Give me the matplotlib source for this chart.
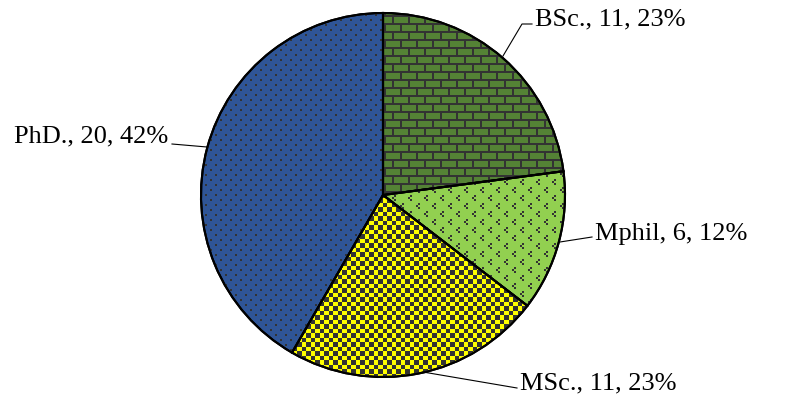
import matplotlib
matplotlib.use("Agg")
import matplotlib.pyplot as plt
import numpy as np
from matplotlib.patches import Wedge

# data
categories = ["BSc.", "Mphil", "MSc.", "PhD."]
counts = [11, 6, 11, 20]
face_colors = ["#548235", "#92D050", "#FFFF00", "#2F5597"]
patterns = ["brick", "divot", "checks", "dots"]

# layout (pixels, top-left origin)
W, H = 808, 402
cx, cy, R = 383, 196, 182
label_pos = [(535, 19, "left"), (595, 234, "left"), (520, 383, "left"), (168, 136, "right")]
leaders = [[(503, 57), (522, 25), (532, 25)],
           [(560, 243), (592, 238)],
           [(423, 373), (517, 389)],
           [(207, 148), (172, 145)]]

plt.rcParams["font.family"] = ["Liberation Serif", "DejaVu Serif"]

fig = plt.figure(figsize=(W / 100, H / 100), dpi=100)
ax = fig.add_axes([0, 0, 1, 1])

wedges, _ = ax.pie(counts, colors=face_colors, startangle=90, counterclock=False,
                   center=(cx, H - cy), radius=R,
                   wedgeprops=dict(edgecolor="black", linewidth=1.5))
ax.set_xlim(0, W)
ax.set_ylim(0, H)
ax.set_aspect("equal")
ax.axis("off")

# fill patterns as images clipped to each wedge
yy, xx = np.mgrid[0:H, 0:W]


def pattern_mask(kind):
    if kind == "brick":
        row = yy // 8
        return (yy % 8 < 2) | ((xx + 8 * (row % 2)) % 16 < 2)
    if kind == "checks":
        return ((np.floor(xx / 4.5) + np.floor(yy / 4.5)) % 2) == 0
    if kind == "dots":
        return ((yy % 10 < 2) & (xx % 10 < 2)) | (((yy + 5) % 10 < 2) & ((xx + 5) % 10 < 2))
    if kind == "divot":
        m = np.zeros_like(xx, dtype=bool)
        for ox, oy in [(0, 0), (8, 8)]:
            tx = (xx - ox) % 16
            ty = (yy - oy) % 16
            m |= (tx >= 2) & (tx < 4) & (ty < 2)
            m |= (tx < 2) & (ty >= 2) & (ty < 4)
            m |= (tx >= 2) & (tx < 4) & (ty >= 4) & (ty < 6)
        return m
    return np.zeros_like(xx, dtype=bool)


for w, kind in zip(wedges, patterns):
    img = np.zeros((H, W, 4))
    img[..., :3] = 0.2
    img[..., 3] = pattern_mask(kind).astype(float)
    im = ax.imshow(img, extent=(0, W, H, 0), origin="upper", interpolation="nearest",
                   zorder=2)
    ax.set_xlim(0, W)
    ax.set_ylim(0, H)
    im.set_clip_path(w)
    ax.add_patch(Wedge(w.center, w.r, w.theta1, w.theta2, fill=False,
                       edgecolor="black", linewidth=1.5, zorder=3))

# labels
total = sum(counts)
for cat, v, (lx, ly, ha), pts in zip(categories, counts, label_pos, leaders):
    txt = f"{cat}, {v}, {round(100 * v / total)}%"
    ax.text(lx, H - ly, txt, ha=ha, va="center", fontsize=19, color="black")
    px = [p[0] for p in pts]
    py = [H - p[1] for p in pts]
    ax.plot(px, py, color="black", linewidth=0.8, zorder=4)

fig.savefig("out.png", dpi=100)
